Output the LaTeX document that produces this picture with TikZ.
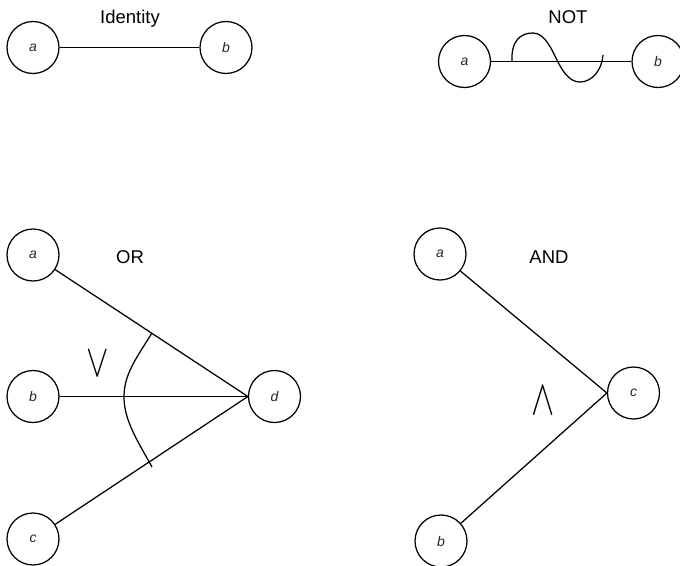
\documentclass[tikz,border=0pt]{standalone}
\usepackage{fontspec}
\setmainfont{Liberation Sans}
\begin{document}
\begin{tikzpicture}[x=1pt,y=-1pt,
  vertex/.style={circle,draw,line width=1.25pt,minimum size=52pt,inner sep=0pt,
    font=\fontsize{14}{14}\selectfont\itshape,text=black!85},
  edge/.style={line width=1.25pt},
  title/.style={font=\fontsize{18.5}{19}\selectfont,anchor=base,inner sep=0pt},
  opsym/.style={font=\fontsize{28}{28}\selectfont,inner sep=0pt}]
\useasboundingbox (0,0) rectangle (680,565);

% Identity
\node[vertex] (ia) at (33,47.5) {a};
\node[vertex] (ib) at (226,47.5) {b};
\draw[edge] (ia) -- (ib);
\node[title] (it) at (130,23) {Identity};

% NOT
\node[vertex] (na) at (464.5,61.5) {a};
\node[vertex] (nb) at (658,61.5) {b};
\draw[edge] (na) -- (nb);
\node[title] (nt) at (568,23) {NOT};
\draw[edge] (512,61.5) .. controls (511,40) and (521,33) .. (533,33)
  .. controls (545,33) and (552,50) .. (558,62)
  .. controls (565,76) and (572,82) .. (580,82)
  .. controls (592,82) and (602,70) .. (603,55);

% OR
\node[vertex] (oa) at (33,255) {a};
\node[vertex] (ob) at (33,396.5) {b};
\node[vertex] (oc) at (33,539) {c};
\node[vertex] (od) at (274.5,396.5) {d};
\draw[edge] (oa) -- (od.west);
\draw[edge] (ob) -- (od.west);
\draw[edge] (oc) -- (od.west);
\node[title] (ot) at (130,263) {OR};
\draw[edge] (152,333) .. controls (135,360) and (124,375) .. (124,397)
  .. controls (124,420) and (137,440) .. (152,467);
\node[opsym] (os) at (97.5,364) {\scalebox{1.35}[1.85]{$\vee$}};

% AND
\node[vertex] (aa) at (440,254) {a};
\node[vertex] (ab) at (441,541) {b};
\node[vertex] (ac) at (633.5,393) {c};
\draw[edge] (aa) -- (ac.west);
\draw[edge] (ab) -- (ac.west);
\node[title] (at) at (549,263) {AND};
\node[opsym] (as) at (543,401) {\scalebox{1.4}[2]{$\wedge$}};
\end{tikzpicture}
\end{document}
